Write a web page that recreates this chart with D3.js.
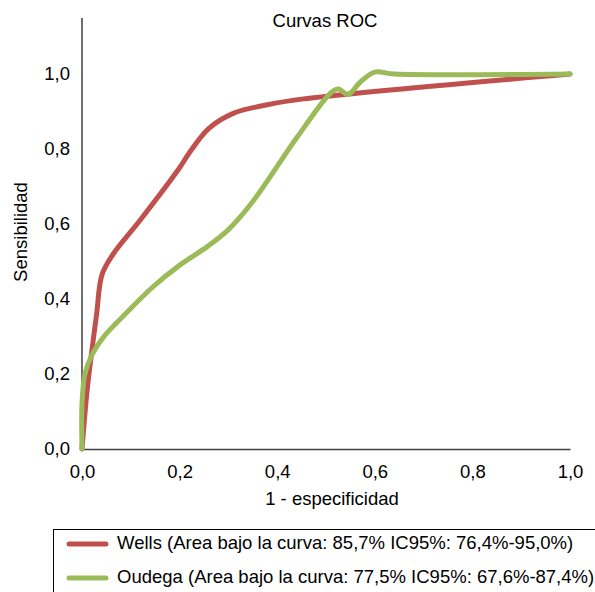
<!DOCTYPE html>
<html>
<head>
<meta charset="utf-8">
<script src="https://cdn.jsdelivr.net/npm/d3@7"></script>
<style>
  body { margin: 0; background: #fff; }
  text { font-family: "Liberation Sans", Arial, sans-serif; fill: #000; }
</style>
</head>
<body>
<div id="chart"></div>
<script>
// ROC points: [1 - especificidad, sensibilidad]
var wellsPoints = [[0,0],[0.01,0.15],[0.02,0.26],[0.03,0.36],[0.041,0.465],[0.064,0.52],[0.119,0.61],[0.2,0.75],[0.22,0.79],[0.26,0.855],[0.31,0.895],[0.38,0.918],[0.45,0.933],[1,1]];
var oudegaPoints = [[0,0],[0,0.12],[0.006,0.2],[0.02,0.25],[0.045,0.3],[0.085,0.355],[0.145,0.432],[0.201,0.491],[0.256,0.539],[0.3,0.585],[0.35,0.66],[0.44,0.83],[0.51,0.95],[0.525,0.96],[0.545,0.945],[0.57,0.978],[0.6,1.005],[0.64,1.0],[1,1]];
var seriesNames = ["Wells (Area bajo la curva: 85,7% IC95%: 76,4%-95,0%)", "Oudega (Area bajo la curva: 77,5% IC95%: 67,6%-87,4%)"];
var seriesColors = ["#C0504D", "#9BBB59"];
var tickValues = [0, 0.2, 0.4, 0.6, 0.8, 1.0];

var fontSize = "18.5px";

var svg = d3.select("#chart").append("svg")
    .attr("width", 595)
    .attr("height", 592);

var x = d3.scaleLinear().domain([0, 1]).range([82, 570]);
var y = d3.scaleLinear().domain([0, 1]).range([449, 74]);
var fmt = function(d) { return d3.format(".1f")(d).replace(".", ","); };

// axes (no tick marks, just the line and labels)
var xAxis = svg.append("g")
    .attr("transform", "translate(0,449)")
    .call(d3.axisBottom(x).tickValues(tickValues).tickSize(0).tickPadding(16).tickFormat(fmt));
xAxis.select(".domain").attr("stroke", "#404040").attr("stroke-width", 1.5);
xAxis.selectAll("text").style("font-size", fontSize).attr("font-family", null);

var yAxis = svg.append("g")
    .attr("transform", "translate(82,0)")
    .call(d3.axisLeft(y).tickValues(tickValues).tickSize(0).tickPadding(12).tickFormat(fmt));
yAxis.select(".domain").remove();
yAxis.selectAll("text").style("font-size", fontSize).attr("font-family", null);
svg.append("line")
    .attr("x1", 82).attr("x2", 82)
    .attr("y1", 449).attr("y2", 18)
    .attr("stroke", "#404040").attr("stroke-width", 1.5);

svg.append("text")
    .attr("x", 325).attr("y", 27)
    .attr("text-anchor", "middle")
    .style("font-size", fontSize)
    .text("Curvas ROC");

svg.append("text")
    .attr("x", 332).attr("y", 505)
    .attr("text-anchor", "middle")
    .style("font-size", fontSize)
    .text("1 - especificidad");

svg.append("text")
    .attr("transform", "translate(27,232) rotate(-90)")
    .attr("text-anchor", "middle")
    .style("font-size", fontSize)
    .text("Sensibilidad");

var line = d3.line()
    .x(function(d) { return x(d[0]); })
    .y(function(d) { return y(d[1]); })
    .curve(d3.curveCatmullRom.alpha(0.5));

[wellsPoints, oudegaPoints].forEach(function(pts, i) {
    svg.append("path")
        .attr("d", line(pts))
        .attr("fill", "none")
        .attr("stroke", seriesColors[i])
        .attr("stroke-width", 5)
        .attr("stroke-linecap", "round")
        .attr("stroke-linejoin", "round");
});

// legend
svg.append("rect")
    .attr("x", 53.5).attr("y", 529.5)
    .attr("width", 600).attr("height", 100)
    .attr("fill", "none")
    .attr("stroke", "#000").attr("stroke-width", 1);

var legend = svg.selectAll(".legend")
    .data(seriesNames)
    .enter().append("g")
    .attr("class", "legend")
    .attr("transform", function(d, i) { return "translate(0," + (544 + i * 34) + ")"; });

legend.append("line")
    .attr("x1", 69).attr("x2", 106)
    .attr("stroke", function(d, i) { return seriesColors[i]; })
    .attr("stroke-width", 5)
    .attr("stroke-linecap", "round");

legend.append("text")
    .attr("x", 117).attr("y", 4.5)
    .style("font-size", fontSize)
    .text(function(d) { return d; });
</script>
</body>
</html>
